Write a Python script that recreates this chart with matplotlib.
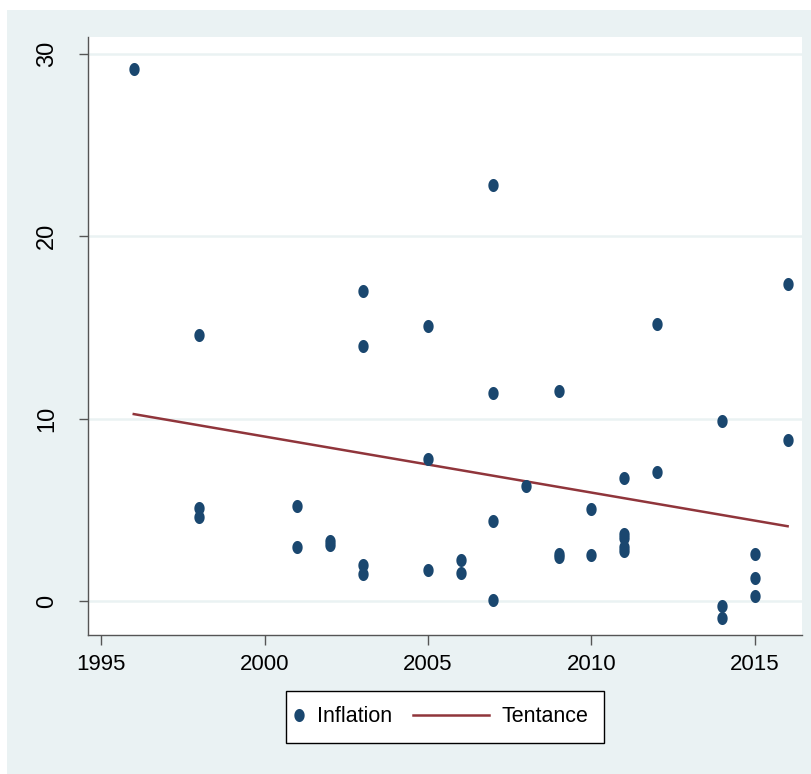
import numpy as np
import matplotlib
matplotlib.use("Agg")
import matplotlib.pyplot as plt
from matplotlib.patches import Rectangle
from matplotlib.lines import Line2D
from matplotlib.legend_handler import HandlerBase

# ---- data ----
years = [1996,
         1998, 1998, 1998,
         2001, 2001,
         2002, 2002,
         2003, 2003, 2003, 2003,
         2005, 2005, 2005,
         2006, 2006,
         2007, 2007, 2007, 2007,
         2008,
         2009, 2009, 2009,
         2010, 2010,
         2011, 2011, 2011, 2011, 2011,
         2012, 2012,
         2014, 2014, 2014,
         2015, 2015, 2015,
         2016, 2016]
inflation = [29.2,
             14.6, 5.1, 4.6,
             5.2, 2.95,
             3.3, 3.05,
             17.0, 14.0, 2.0, 1.5,
             15.1, 7.8, 1.7,
             2.25, 1.55,
             22.8, 11.4, 4.4, 0.05,
             6.3,
             11.5, 2.6, 2.4,
             5.05, 2.5,
             6.75, 3.65, 3.45, 2.95, 2.75,
             15.2, 7.1,
             9.85, -0.27, -0.93,
             2.6, 1.25, 0.27,
             17.4, 8.83]
trend_years = [1996, 2016]
trend_values = [10.25, 4.1]

xticks = [1995, 2000, 2005, 2010, 2015]
yticks = [0, 10, 20, 30]

# ---- style ----
W, H = 812, 774
BG = "#EAF2F3"
NAVY = "#1a476f"
MAROON = "#90353b"
FONT = ["Liberation Sans", "DejaVu Sans"]

fig = plt.figure(figsize=(W / 100, H / 100), dpi=100, facecolor="white")
fig.patches.append(Rectangle((7 / W, 0), 1 - 7 / W, 1 - 10 / H,
                             transform=fig.transFigure, facecolor=BG,
                             edgecolor="none", zorder=-10))

ax = fig.add_axes([88 / W, 1 - 635 / H, (802 - 88) / W, (635 - 37) / H])
ax.set_facecolor("white")

# ellipse marker
t = np.linspace(0, 2 * np.pi, 60)
ell = np.column_stack([0.79 * np.cos(t), np.sin(t)])

ax.plot(years, inflation, linestyle="none", marker=ell, markersize=9.4,
        color=NAVY, markeredgewidth=0, label="Inflation", zorder=3)
ax.plot(trend_years, trend_values, color=MAROON, lw=1.8, label="Tentance",
        zorder=2)

ax.set_xlim(1994.60, 2016.44)
ax.set_ylim(-1.865, 30.93)
ax.set_xticks(xticks)
ax.set_yticks(yticks)
ax.yaxis.grid(True, color=BG, lw=1.8)
ax.xaxis.grid(False)
ax.set_axisbelow(True)

for s in ["top", "right"]:
    ax.spines[s].set_visible(False)
for s in ["left", "bottom"]:
    ax.spines[s].set_color("#555555")
    ax.spines[s].set_linewidth(1.0)

ax.tick_params(axis="x", length=7.2, width=1, color="#555555", pad=6.8)
ax.tick_params(axis="y", length=6.5, width=1, color="#555555", pad=15)
for lab in ax.get_xticklabels():
    lab.set_fontfamily(FONT)
    lab.set_fontsize(16)
for lab in ax.get_yticklabels():
    lab.set_fontfamily(FONT)
    lab.set_fontsize(17)
    lab.set_rotation(90)
    lab.set_va("center")

PT = 72 / 100  # points per pixel


class LineHandler(HandlerBase):
    def create_artists(self, legend, orig, xdescent, ydescent, width, height,
                       fontsize, trans):
        y = height / 2 - ydescent
        x1 = width - xdescent - 3.5 * PT
        x0 = x1 - 76 * PT
        ln = Line2D([x0, x1], [y, y], color=orig.get_color(),
                    lw=orig.get_linewidth())
        ln.set_transform(trans)
        return [ln]


class MarkerHandler(HandlerBase):
    def create_artists(self, legend, orig, xdescent, ydescent, width, height,
                       fontsize, trans):
        y = height / 2 - ydescent
        m = Line2D([-xdescent - 2 * PT], [y], linestyle="none",
                   marker=ell, markersize=9.4, color=orig.get_color(),
                   markeredgewidth=0)
        m.set_transform(trans)
        return [m]


handles, labels = ax.get_legend_handles_labels()
leg = fig.legend(handles, labels, loc="center",
                 bbox_to_anchor=(445 / W, 1 - 717 / H), ncol=2,
                 prop={"family": FONT, "size": 15.5},
                 frameon=True, fancybox=False, edgecolor="black",
                 facecolor="white", framealpha=1,
                 handlelength=0.3, handletextpad=0.44, columnspacing=4.33,
                 borderpad=0.7, borderaxespad=0,
                 handler_map={handles[0]: MarkerHandler(),
                              handles[1]: LineHandler()})
leg.get_frame().set_linewidth(1.0)

fig.savefig("out.png", dpi=100, facecolor="white")
